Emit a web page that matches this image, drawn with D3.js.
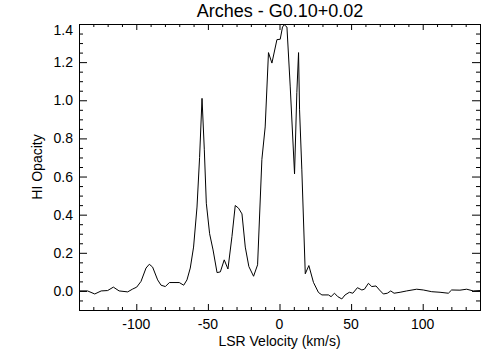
<!DOCTYPE html>
<html>
<head>
<meta charset="utf-8">
<script src="https://cdn.jsdelivr.net/npm/d3@7"></script>
<style>
  body { margin: 0; background: #fff; }
  text { font-family: "Liberation Sans", Arial, sans-serif; fill: #000; }
</style>
</head>
<body>
<div id="chart"></div>
<script>
// HI absorption spectrum, Arches - G0.10+0.02
const velocity = [-140, -134, -129, -124.5, -120, -116, -112, -106, -102.5, -99.7,
  -96.7, -93.2, -90.9, -88.6, -85.1, -82.7, -79.7, -76.9, -70, -66.9,
  -64.6, -62.3, -60, -57.6, -55.8, -54.1, -52.5, -51.1, -48.8, -46.4,
  -43.6, -41.3, -38.6, -36, -33.2, -30.9, -28.6, -26.2, -23.9, -21.4,
  -18.1, -15.3, -12.3, -10, -7.7, -5.3, -1.8, 0.5, 2.1, 3.3,
  5.2, 7.5, 10.5, 12.1, 13.3, 14, 15.6, 18, 20.5, 23.7,
  27.2, 29.6, 34.2, 36, 38.4, 40.7, 43.5, 45.8, 48.8, 51.2,
  54.4, 57.5, 59.3, 62.1, 64.4, 67.4, 69.8, 72.5, 75.3, 77.7,
  80, 84.2, 88.8, 95.8, 100.4, 106.3, 112.1, 117.9, 120.2, 126,
  130.7, 135.3, 140];
const opacity = [0.0, 0.0, -0.016, 0.0, 0.002, 0.02, 0.0, -0.005, 0.01, 0.02,
  0.05, 0.12, 0.14, 0.125, 0.058, 0.03, 0.023, 0.044, 0.044, 0.03,
  0.058, 0.12, 0.23, 0.44, 0.70, 1.01, 0.74, 0.46, 0.30, 0.215,
  0.096, 0.10, 0.163, 0.115, 0.285, 0.448, 0.434, 0.404, 0.23, 0.128,
  0.077, 0.137, 0.69, 0.86, 1.25, 1.195, 1.318, 1.32, 1.384, 1.396,
  1.384, 1.07, 0.614, 1.04, 1.25, 0.95, 0.635, 0.09, 0.133, 0.045,
  -0.008, -0.021, -0.021, -0.03, -0.012, -0.03, -0.042, -0.021, -0.007, -0.012,
  0.017, 0.005, 0.009, 0.04, 0.023, 0.026, 0.005, -0.016, -0.012, 0.0,
  -0.012, -0.007, 0.0, 0.009, 0.005, -0.004, -0.007, -0.012, 0.005, 0.004,
  0.009, 0.0, 0.002];

const xTicks = [-100, -50, 0, 50, 100];
const yTicks = [0.0, 0.2, 0.4, 0.6, 0.8, 1.0, 1.2, 1.4];

const width = 504, height = 360;
const margin = {top: 24, right: 24, bottom: 50, left: 79};
const w = width - margin.left - margin.right;
const h = height - margin.top - margin.bottom;

const data = velocity.map((v, i) => ({v: v, o: opacity[i]}));

const svg = d3.select("#chart").append("svg")
  .attr("width", width).attr("height", height);

const g = svg.append("g")
  .attr("transform", `translate(${margin.left},${margin.top})`);

const x = d3.scaleLinear().domain([-140, 140]).range([0, w]);
const y = d3.scaleLinear().domain([-0.1, 1.4]).range([h, 0]);

const xMinor = d3.range(-140, 141, 10).filter(d => !xTicks.includes(d));
const yMinor = d3.range(-0.05, 1.40, 0.05).map(d => +d.toFixed(2))
  .filter(d => !yTicks.some(t => Math.abs(t - d) < 1e-6));

const xLen = 6, yLen = 8;

// box axes, IDL style: ticks inside on all four sides
function xAxes(ticks, len) {
  g.append("g").attr("transform", `translate(0,${h})`)
    .call(d3.axisBottom(x).tickValues(ticks).tickSize(-len).tickFormat(""));
  g.append("g")
    .call(d3.axisTop(x).tickValues(ticks).tickSize(-len).tickFormat(""));
}
function yAxes(ticks, len) {
  g.append("g")
    .call(d3.axisLeft(y).tickValues(ticks).tickSize(-len).tickFormat(""));
  g.append("g").attr("transform", `translate(${w},0)`)
    .call(d3.axisRight(y).tickValues(ticks).tickSize(-len).tickFormat(""));
}
xAxes(xTicks, xLen);
xAxes(xMinor, xLen / 2);
yAxes(yTicks, yLen);
yAxes(yMinor, yLen / 2);

g.selectAll(".domain").attr("stroke", "#000");
g.selectAll(".tick line").attr("stroke", "#000");

// tick labels
g.selectAll(".xlab").data(xTicks).join("text")
  .attr("class", "xlab")
  .attr("x", d => x(d)).attr("y", h + 19)
  .attr("text-anchor", "middle").attr("font-size", 14)
  .text(d => d);

g.selectAll(".ylab").data(yTicks).join("text")
  .attr("class", "ylab")
  .attr("x", -6).attr("y", d => d === 1.4 ? y(d) + 6 : y(d))
  .attr("dy", "0.36em")
  .attr("text-anchor", "end").attr("font-size", 14)
  .text(d => d3.format(".1f")(d));

// spectrum
const line = d3.line().x(d => x(d.v)).y(d => y(d.o));
g.append("path").datum(data)
  .attr("d", line)
  .attr("fill", "none")
  .attr("stroke", "#000")
  .attr("stroke-width", 1);

// titles
svg.append("text")
  .attr("x", 280).attr("y", 17)
  .attr("text-anchor", "middle").attr("font-size", 18)
  .text("Arches - G0.10+0.02");

svg.append("text")
  .attr("x", margin.left + w / 2).attr("y", 346)
  .attr("text-anchor", "middle").attr("font-size", 14)
  .text("LSR Velocity (km/s)");

svg.append("text")
  .attr("transform", "translate(42,167) rotate(-90)")
  .attr("text-anchor", "middle").attr("font-size", 14)
  .text("HI Opacity");
</script>
</body>
</html>
